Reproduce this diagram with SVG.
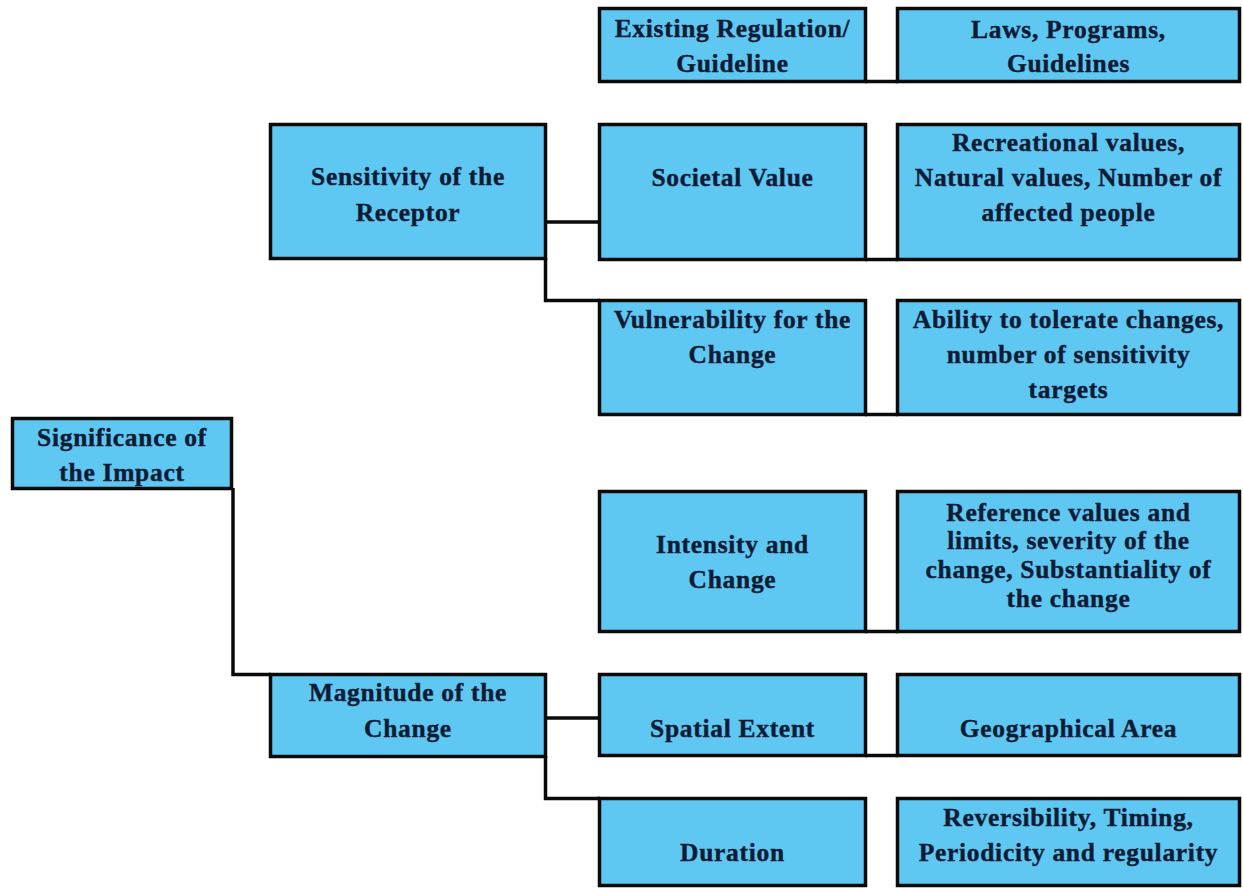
<svg xmlns="http://www.w3.org/2000/svg" width="1243" height="888" viewBox="0 0 1243 888">
<style>
.box{fill:#5ec8f2;stroke:#0a0a0a;stroke-width:3.5}
.t{font-family:"Liberation Serif","Times New Roman",serif;font-weight:bold;font-size:25.5px;letter-spacing:0.7px;fill:#0f1b35;stroke:#0f1b35;stroke-width:0.4;text-anchor:middle}
.c{fill:none;stroke:#0a0a0a;stroke-width:3.5}
</style>
<rect width="1243" height="888" fill="#ffffff"/>
<g id="connectors">
<path class="c" d="M233 488 V674.5 H271"/>
<path class="c" d="M545 222 H600"/>
<path class="c" d="M545.5 258 V300.5 H600"/>
<path class="c" d="M545 718 H600"/>
<path class="c" d="M545.5 756 V798.5 H600"/>
<path class="c" d="M865 81.5 H898 M865 259.5 H898 M865 414.5 H898 M865 631.5 H898 M865 755.5 H898"/>
</g>
<g id="significance">
<rect class="box" x="12.5" y="418.5" width="219" height="70"/>
<text class="t" x="122" y="446">Significance of</text>
<text class="t" x="122" y="481">the Impact</text>
</g>
<g id="sensitivity">
<rect class="box" x="270.5" y="124.5" width="275" height="134"/>
<text class="t" x="408" y="185">Sensitivity of the</text>
<text class="t" x="408" y="221">Receptor</text>
</g>
<g id="magnitude">
<rect class="box" x="270.5" y="674.5" width="275" height="82"/>
<text class="t" x="408" y="701">Magnitude of the</text>
<text class="t" x="408" y="737">Change</text>
</g>
<g id="existing-regulation">
<rect class="box" x="599.5" y="8.5" width="266" height="73"/>
<text class="t" x="732.5" y="37">Existing Regulation/</text>
<text class="t" x="732.5" y="72">Guideline</text>
</g>
<g id="laws">
<rect class="box" x="897.5" y="8.5" width="342" height="73"/>
<text class="t" x="1068.5" y="38">Laws, Programs,</text>
<text class="t" x="1068.5" y="72">Guidelines</text>
</g>
<g id="societal-value">
<rect class="box" x="599.5" y="124.5" width="266" height="135"/>
<text class="t" x="732.5" y="186">Societal Value</text>
</g>
<g id="recreational">
<rect class="box" x="897.5" y="124.5" width="342" height="135"/>
<text class="t" x="1068.5" y="151">Recreational values,</text>
<text class="t" x="1068.5" y="186">Natural values, Number of</text>
<text class="t" x="1068.5" y="221">affected people</text>
</g>
<g id="vulnerability">
<rect class="box" x="599.5" y="300.5" width="266" height="114"/>
<text class="t" x="732.5" y="328">Vulnerability for the</text>
<text class="t" x="732.5" y="363">Change</text>
</g>
<g id="ability">
<rect class="box" x="897.5" y="300.5" width="342" height="114"/>
<text class="t" x="1068.5" y="328">Ability to tolerate changes,</text>
<text class="t" x="1068.5" y="363">number of sensitivity</text>
<text class="t" x="1068.5" y="398">targets</text>
</g>
<g id="intensity">
<rect class="box" x="599.5" y="491.5" width="266" height="140"/>
<text class="t" x="732.5" y="553">Intensity and</text>
<text class="t" x="732.5" y="588">Change</text>
</g>
<g id="reference">
<rect class="box" x="897.5" y="491.5" width="342" height="140"/>
<text class="t" x="1068.5" y="521">Reference values and</text>
<text class="t" x="1068.5" y="549">limits, severity of the</text>
<text class="t" x="1068.5" y="578">change, Substantiality of</text>
<text class="t" x="1068.5" y="607">the change</text>
</g>
<g id="spatial-extent">
<rect class="box" x="599.5" y="674.5" width="266" height="81"/>
<text class="t" x="732.5" y="737">Spatial Extent</text>
</g>
<g id="geographical-area">
<rect class="box" x="897.5" y="674.5" width="342" height="81"/>
<text class="t" x="1068.5" y="737">Geographical Area</text>
</g>
<g id="duration">
<rect class="box" x="599.5" y="798.5" width="266" height="87"/>
<text class="t" x="732.5" y="861">Duration</text>
</g>
<g id="reversibility">
<rect class="box" x="897.5" y="798.5" width="342" height="87"/>
<text class="t" x="1068.5" y="826">Reversibility, Timing,</text>
<text class="t" x="1068.5" y="861">Periodicity and regularity</text>
</g>
</svg>
